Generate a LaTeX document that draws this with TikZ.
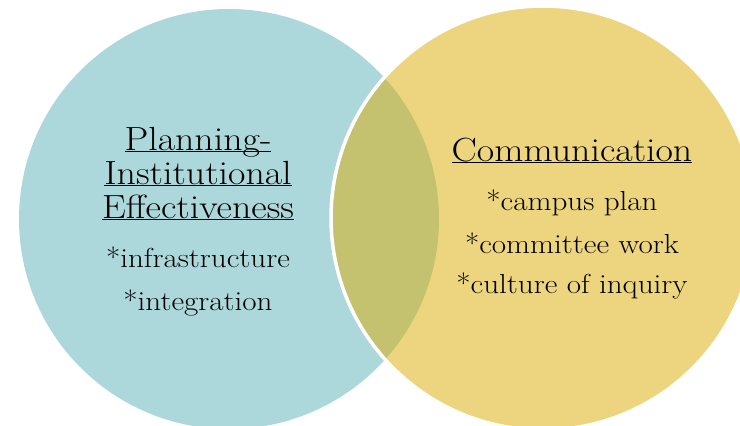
\documentclass[tikz,border=0pt]{standalone}
\usepackage{tikz}

\definecolor{vennteal}{RGB}{172,215,219}
\definecolor{vennyellow}{RGB}{236,213,126}
\definecolor{vennolive}{RGB}{197,194,111}

% the slide font is wider than Latin Modern
\newcommand{\widen}[1]{\scalebox{1.13}[1]{#1}}
\newcommand{\headline}[1]{\widen{\underline{\smash{#1}}}}

\begin{document}
\begin{tikzpicture}[x=1pt,y=-1pt,
	head/.style={anchor=base,inner sep=0pt,font=\fontsize{33.5}{34}\selectfont},
	item/.style={anchor=base,inner sep=0pt,font=\fontsize{27.5}{28}\selectfont}]

\clip (0,0) rectangle (740,426);
\fill[white] (0,0) rectangle (740,426);

% the two circles and their overlap
\fill[vennteal]   (229,219) circle (210pt);
\fill[vennyellow] (543,218) circle (212pt);
\begin{scope}
	\clip (229,219) circle (210pt);
	\fill[vennolive] (543,218) circle (212pt);
\end{scope}
\draw[white,line width=3.5pt] (543,218) circle (212pt);

% left circle
\node[head]   (plan1) at (198,150)      {\headline{Planning-}};
\node[head]   (plan2) at (198,184)      {\headline{Institutional}};
\node[head]   (plan3) at (198,218)      {\headline{Effectiveness}};
\node[item]   (infra) at (198,267)      {\widen{*infrastructure}};
\node[item]   (integ) at (198,310)      {\widen{*integration}};

% right circle
\node[head]   (comm)  at (572,161)      {\headline{Communication}};
\node[item]   (campus) at (572,210)     {\widen{*campus plan}};
\node[item]   (committee) at (572,253)  {\widen{*committee work}};
\node[item]   (culture) at (572,293)    {\widen{*culture of inquiry}};

\end{tikzpicture}
\end{document}
